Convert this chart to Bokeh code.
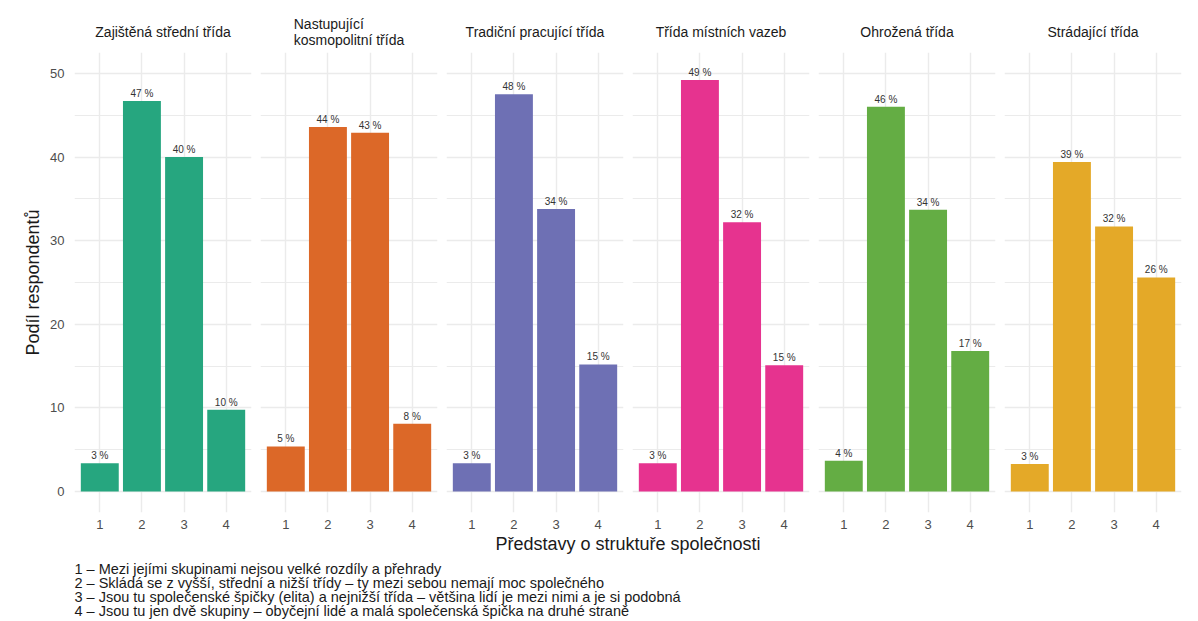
from bokeh.plotting import figure
from bokeh.layouts import row, column
from bokeh.models import FixedTicker, ColumnDataSource, Range1d
from bokeh.embed import file_html
from bokeh.resources import INLINE
from bokeh.core.properties import value

# ---------------- data ----------------
classes = [
    "Zajištěná střední třída",
    "Nastupující\nkosmopolitní třída",
    "Tradiční pracující třída",
    "Třída místních vazeb",
    "Ohrožená třída",
    "Strádající třída",
]
categories = [1, 2, 3, 4]
zajistena_stredni = [3.4, 46.7, 40.0, 9.8]
nastupujici_kosmopolitni = [5.4, 43.6, 42.9, 8.1]
tradicni_pracujici = [3.4, 47.5, 33.8, 15.2]
mistnich_vazeb = [3.4, 49.2, 32.2, 15.1]
ohrozena = [3.7, 46.0, 33.7, 16.8]
stradajici = [3.3, 39.4, 31.7, 25.6]
series = [zajistena_stredni, nastupujici_kosmopolitni, tradicni_pracujici,
          mistnich_vazeb, ohrozena, stradajici]
y_major = [0, 10, 20, 30, 40, 50]
y_minor = [5, 15, 25, 35, 45]
y_title = "Podíl respondentů"
x_title = "Představy o struktuře společnosti"
caption = [
    "1 – Mezi jejími skupinami nejsou velké rozdíly a přehrady",
    "2 – Skládá se z vyšší, střední a nižší třídy – ty mezi sebou nemají moc společného",
    "3 – Jsou tu společenské špičky (elita) a nejnižší třída – většina lidí je mezi nimi a je si podobná",
    "4 – Jsou tu jen dvě skupiny – obyčejní lidé a malá společenská špička na druhé straně",
]

# ---------------- style ----------------
colors = ["#26A67F", "#DC6828", "#6E70B4", "#E6338F", "#64AD44", "#E4A928"]
FONT = "Liberation Sans"
GRID = "#EBEBEB"
FRAME_W = 177
FRAME_H = 460
TOP = 52
BOTTOM = 22

panels = []
for i, (name, vals, col) in enumerate(zip(classes, series, colors)):
    left = 74 if i == 0 else 4
    p = figure(width=left + FRAME_W + 5, height=TOP + FRAME_H + BOTTOM,
               x_range=Range1d(0.4, 4.6), y_range=Range1d(-2.5, 52.5),
               output_backend="svg", toolbar_location=None,
               min_border_left=left, min_border_right=5,
               min_border_top=TOP, min_border_bottom=BOTTOM)
    p.outline_line_color = None
    src = ColumnDataSource(dict(x=categories, top=vals,
                                label=[f"{round(v)} %" for v in vals]))
    p.vbar(x="x", top="top", width=0.9, source=src, fill_color=col,
           line_color=None)
    p.text(x="x", y="top", text="label", source=src, text_align="center",
           text_baseline="bottom", y_offset=-2, text_font_size="10px",
           text_color="#333333", text_font=value(FONT))

    p.xaxis.ticker = FixedTicker(ticks=categories)
    p.yaxis.ticker = FixedTicker(ticks=y_major, minor_ticks=y_minor)
    for ax in (p.xaxis[0], p.yaxis[0]):
        ax.axis_line_color = None
        ax.major_tick_line_color = None
        ax.minor_tick_line_color = None
        ax.major_tick_out = 0
        ax.minor_tick_out = 0
        ax.major_tick_in = 0
        ax.minor_tick_in = 0
        ax.major_label_text_font = FONT
        ax.major_label_text_font_size = "13px"
        ax.major_label_text_color = "#4D4D4D"
    p.xaxis.major_label_standoff = 7
    p.yaxis.major_label_standoff = 10
    if i == 0:
        p.yaxis.axis_label = y_title
        p.yaxis.axis_label_text_font = FONT
        p.yaxis.axis_label_text_font_size = "18px"
        p.yaxis.axis_label_text_font_style = "normal"
        p.yaxis.axis_label_text_color = "#1A1A1A"
        p.yaxis.axis_label_standoff = 4
    else:
        p.yaxis.visible = False

    p.xgrid.grid_line_color = GRID
    p.xgrid.grid_line_width = 1.4
    p.ygrid.grid_line_color = GRID
    p.ygrid.grid_line_width = 1.4
    p.ygrid.minor_grid_line_color = GRID
    p.ygrid.minor_grid_line_width = 1.1

    p.title.text = name
    p.title.align = "center"
    p.title.text_font = FONT
    p.title.text_font_size = "14px"
    p.title.text_font_style = "normal"
    p.title.text_color = "#1A1A1A"
    p.title.text_line_height = 1.05
    p.title.standoff = 8 if "\n" in name else 26
    panels.append(p)

TW = sum(pp.width for pp in panels)
TH = 621 - (TOP + FRAME_H + BOTTOM)
t = figure(width=TW, height=TH, x_range=Range1d(0, TW), y_range=Range1d(TH, 0),
           x_axis_type=None, y_axis_type=None, output_backend="svg",
           toolbar_location=None, min_border=0)
t.outline_line_color = None
t.text(x=[(74 + TW - 5) / 2], y=[9], text=[x_title], text_align="center",
       text_baseline="middle", text_font_size="18px", text_color="#1A1A1A",
       text_font=value(FONT))
t.text(x=[74] * len(caption), y=[34 + 14 * k for k in range(len(caption))],
       text=caption, text_align="left", text_baseline="middle",
       text_font_size="14.5px", text_color="#1A1A1A", text_font=value(FONT))

layout = column(row(*panels), t)
open("out.html", "w").write(file_html(layout, INLINE))
